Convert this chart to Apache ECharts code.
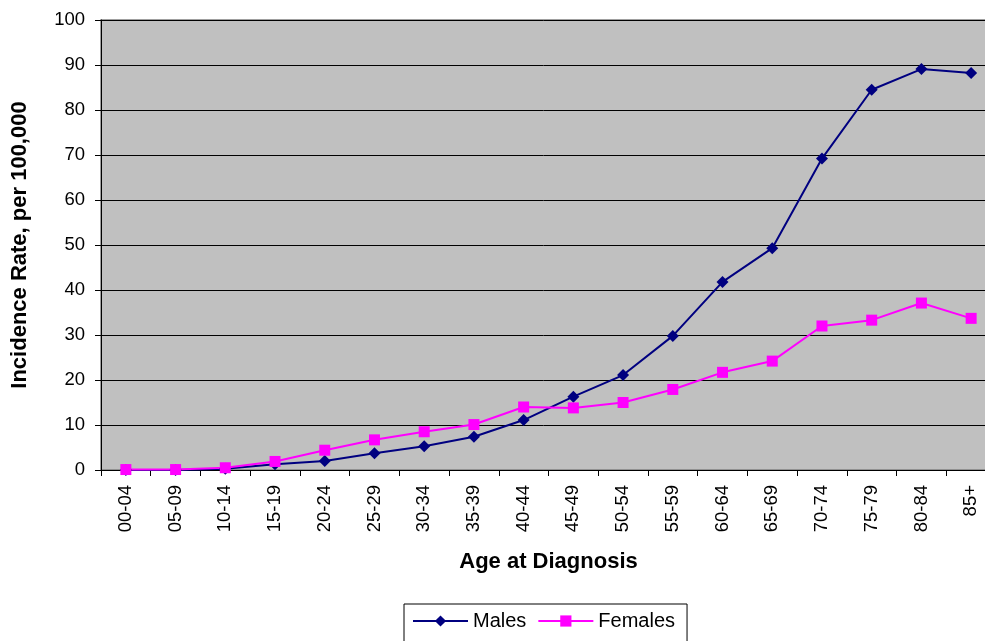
<!DOCTYPE html>
<html>
<head>
<meta charset="utf-8">
<script src="https://cdn.jsdelivr.net/npm/echarts@6/dist/echarts.min.js"></script>
<style>
  html, body { margin: 0; padding: 0; background: #fff; }
  #chart { width: 985px; height: 641px; }
</style>
</head>
<body>
<div id="chart"></div>
<script>
// age groups on the x axis
const ageGroups = ['00-04', '05-09', '10-14', '15-19', '20-24', '25-29', '30-34', '35-39', '40-44',
  '45-49', '50-54', '55-59', '60-64', '65-69', '70-74', '75-79', '80-84', '85+'];
// incidence per 100,000
const males = [0, 0, 0.3, 1.3, 2.0, 3.7, 5.3, 7.4, 11.1, 16.3, 21.1, 29.8, 41.8, 49.3, 69.2, 84.5, 89.1, 88.2];
const females = [0.1, 0.1, 0.5, 1.9, 4.4, 6.7, 8.5, 10.1, 14.0, 13.8, 15.0, 17.9, 21.7, 24.2, 32.0, 33.3, 37.1, 33.7];
const yTicks = { min: 0, max: 100, interval: 10 };

const font = 'Liberation Sans, Arial, sans-serif';
let myChart = echarts.init(document.getElementById('chart'));

myChart.setOption({
  animation: false,
  backgroundColor: '#ffffff',
  textStyle: { fontFamily: font },
  grid: {
    left: 101, top: 20, right: -11, bottom: 171,
    outerBoundsMode: 'none',
    containLabel: false,
    show: true,
    backgroundColor: '#c0c0c0',
    borderColor: '#808080',
    borderWidth: 1.5
  },
  legend: {
    left: 404, top: 604,
    padding: [7, 12, 14, 8],
    borderColor: '#000', borderWidth: 1,
    itemWidth: 55, itemHeight: 14, itemGap: 11,
    textStyle: { fontSize: 20, color: '#000', fontFamily: font },
    data: ['Males', 'Females']
  },
  xAxis: {
    type: 'category',
    data: ageGroups,
    boundaryGap: true,
    name: 'Age at Diagnosis',
    nameLocation: 'middle',
    nameGap: 81,
    nameTextStyle: { fontSize: 22, fontWeight: 'bold', color: '#000', fontFamily: font },
    axisLine: { lineStyle: { color: '#000', width: 1 } },
    axisTick: { show: true, length: 6, interval: 0, lineStyle: { color: '#000' } },
    axisLabel: { interval: 0, rotate: 90, fontSize: 18.5, color: '#000', margin: 15, fontFamily: font },
    splitLine: { show: false }
  },
  yAxis: {
    type: 'value',
    min: yTicks.min, max: yTicks.max, interval: yTicks.interval,
    name: 'Incidence Rate, per 100,000',
    nameLocation: 'middle',
    nameGap: 70,
    nameTextStyle: { fontSize: 22, fontWeight: 'bold', color: '#000', fontFamily: font },
    axisLine: { show: true, lineStyle: { color: '#000', width: 1 } },
    axisTick: { show: true, length: 6, lineStyle: { color: '#000' } },
    axisLabel: { fontSize: 18.5, color: '#000', margin: 16, fontFamily: font },
    splitLine: { show: true, lineStyle: { color: '#000', width: 1 } }
  },
  series: [
    {
      name: 'Males',
      type: 'line',
      data: males,
      symbol: 'diamond',
      symbolSize: 12,
      color: '#000080',
      lineStyle: { color: '#000080', width: 2 },
      itemStyle: { color: '#000080' }
    },
    {
      name: 'Females',
      type: 'line',
      data: females,
      symbol: 'rect',
      symbolSize: 11,
      color: '#ff00ff',
      lineStyle: { color: '#ff00ff', width: 2 },
      itemStyle: { color: '#ff00ff' }
    }
  ]
});
</script>
</body>
</html>
